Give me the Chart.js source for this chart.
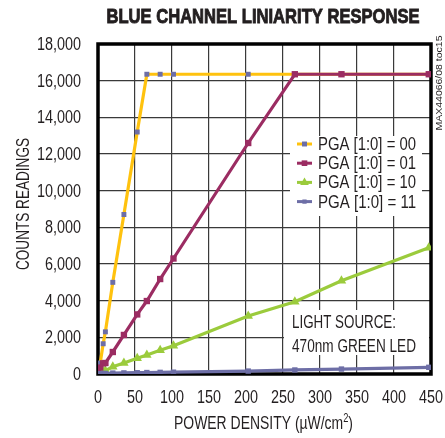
<!DOCTYPE html>
<html>
<head>
<meta charset="utf-8">
<script src="https://cdn.jsdelivr.net/npm/chart.js@4.4.1/dist/chart.umd.min.js"></script>
<style>
  html, body { margin: 0; padding: 0; background: #fff; }
  #wrap { width: 445px; height: 438px; position: relative; }
</style>
</head>
<body>
<div id="wrap"><canvas id="chart"></canvas></div>
<script>
// data (x = µW/cm2, y = counts)
const powerX   = [0, 3, 7, 10, 20, 35, 53, 66, 84, 102, 203, 266, 329, 447];
const pga00    = [0, 600, 1650, 2300, 5000, 8700, 13200, 16350, 16350, 16350, 16350, 16350, 16350, 16350];
const pga01    = [100, 350, 580, 600, 1200, 2130, 3250, 3980, 5180, 6300, 12600, 16350, 16350, 16350];
const pga10    = [0, 60, 130, 180, 400, 600, 860, 1040, 1290, 1540, 3160, 3940, 5090, 6880];
const pga11    = [10, 20, 25, 30, 50, 60, 70, 80, 90, 100, 160, 220, 270, 365];
const seriesLabels = ['PGA [1:0] = 00', 'PGA [1:0] = 01', 'PGA [1:0] = 10', 'PGA [1:0] = 11'];
const xTicks = [0, 50, 100, 150, 200, 250, 300, 350, 400, 450];
const yTicks = [0, 2000, 4000, 6000, 8000, 10000, 12000, 14000, 16000, 18000];

const FONT = '"Liberation Sans", Arial, sans-serif';
const INK = '#231f20';
const YELLOW = '#FFC20E', MAGENTA = '#9B2C62', GREEN = '#9BCB3C', SLATE = '#6D6EA6';
const SQUEEZE = 0.8;   // the original uses a condensed face

const pts = ys => powerX.map((x, i) => ({ x, y: ys[i] }));

function mkSet(label, ys, line, mark, style, size, order) {
    return {
        label, data: pts(ys), showLine: true,
        borderColor: line, backgroundColor: mark, borderWidth: 3.2,
        pointStyle: style, pointRadius: size, pointBackgroundColor: mark,
        pointBorderColor: mark, pointBorderWidth: 0, order
    };
}

// draw text squeezed horizontally; width = target width or null to use SQUEEZE
function squeezed(ctx, text, x, y, font, align, width, bolden) {
    ctx.save();
    ctx.font = font;
    const w = ctx.measureText(text).width;
    const k = width ? width / w : SQUEEZE;
    ctx.translate(x, y);
    ctx.scale(k, 1);
    ctx.textAlign = align;
    ctx.textBaseline = 'middle';
    ctx.fillText(text, 0, 0);
    if (bolden) {
        ctx.strokeStyle = ctx.fillStyle;
        ctx.lineWidth = bolden;
        ctx.strokeText(text, 0, 0);
    }
    ctx.restore();
}

const decor = {
    id: 'decor',
    beforeDatasetsDraw(chart) {
        const { ctx, chartArea: a } = chart;
        ctx.save();
        // legend box and note box
        ctx.fillStyle = '#fff';
        ctx.fillRect(290, 136, 132, 80);
        ctx.fillRect(284, 310, 145, 45);
        // frame
        ctx.strokeStyle = '#000';
        ctx.lineWidth = 3.5;
        ctx.strokeRect(a.left, a.top, a.right - a.left, a.bottom - a.top);
        ctx.restore();
    },
    afterDatasetsDraw(chart) {
        const { ctx, scales } = chart;
        ctx.save();
        ctx.fillStyle = INK;
        // tick labels
        yTicks.forEach(v => {
            squeezed(ctx, v.toLocaleString('en-US'), 81, scales.y.getPixelForValue(v) + 1, '18px ' + FONT, 'right');
        });
        xTicks.forEach(v => {
            squeezed(ctx, String(v), scales.x.getPixelForValue(v), 398, '18px ' + FONT, 'center');
        });
        // legend
        const sym = [[YELLOW, SLATE, 'rect', 3.5], [MAGENTA, MAGENTA, 'rect', 4], [GREEN, GREEN, 'triangle', 5], [SLATE, SLATE, 'rect', 3]];
        seriesLabels.forEach((t, i) => {
            const y = 144 + i * 19.2;
            ctx.strokeStyle = sym[i][0];
            ctx.lineWidth = 3;
            ctx.beginPath(); ctx.moveTo(297, y); ctx.lineTo(312, y); ctx.stroke();
            ctx.fillStyle = sym[i][1];
            Chart.helpers.drawPoint(ctx, { pointStyle: sym[i][2], radius: sym[i][3], borderWidth: 0 }, 304.5, y);
            ctx.fillStyle = INK;
            squeezed(ctx, t, 318, y + 1, '18px ' + FONT, 'left', 98);
        });
        // note
        squeezed(ctx, 'LIGHT SOURCE:', 292, 323, '19px ' + FONT, 'left', 104);
        squeezed(ctx, '470nm GREEN LED', 292, 347, '19px ' + FONT, 'left', 124);
        // title
        squeezed(ctx, 'BLUE CHANNEL LINIARITY RESPONSE', 263, 17, 'bold 20px ' + FONT, 'center', 313, 0.9);
        // x axis title with superscript
        ctx.font = '18px ' + FONT;
        const xt = 'POWER DENSITY (µW/cm';
        const w1 = ctx.measureText(xt).width;
        ctx.font = '12px ' + FONT;
        const w2 = ctx.measureText('2').width;
        ctx.font = '18px ' + FONT;
        const w3 = ctx.measureText(')').width;
        const k = 179 / (w1 + w2 + w3);
        ctx.save();
        ctx.translate(174, 424);
        ctx.scale(k, 1);
        ctx.textBaseline = 'middle';
        ctx.fillText(xt, 0, 0);
        ctx.font = '12px ' + FONT;
        ctx.fillText('2', w1, -5);
        ctx.font = '18px ' + FONT;
        ctx.fillText(')', w1 + w2, 0);
        ctx.restore();
        // y axis title
        ctx.save();
        ctx.translate(24, 204);
        ctx.rotate(-Math.PI / 2);
        squeezed(ctx, 'COUNTS READINGS', 0, 0, '18px ' + FONT, 'center', 132);
        ctx.restore();
        // side code
        ctx.save();
        ctx.translate(440, 83);
        ctx.rotate(-Math.PI / 2);
        squeezed(ctx, 'MAX44066/08 toc15', 0, 0, '9px ' + FONT, 'center', 95);
        ctx.restore();
        ctx.restore();
    }
};

new Chart(document.getElementById('chart'), {
    type: 'scatter',
    data: {
        datasets: [
            mkSet(seriesLabels[0], pga00, YELLOW, SLATE, 'rect', 3.5, 3),
            mkSet(seriesLabels[1], pga01, MAGENTA, MAGENTA, 'rect', 4.5, 1),
            mkSet(seriesLabels[2], pga10, GREEN, GREEN, 'triangle', 5.5, 2),
            mkSet(seriesLabels[3], pga11, SLATE, SLATE, 'rect', 3.8, 0)
        ]
    },
    options: {
        responsive: true,
        maintainAspectRatio: false,
        animation: false,
        layout: { padding: { left: 0, top: 44, right: 14, bottom: 0 } },
        plugins: { legend: { display: false }, title: { display: false }, tooltip: { enabled: false } },
        scales: {
            x: {
                type: 'linear', min: 0, max: 450,
                afterFit: s => { s.height = 64; },
                afterBuildTicks: s => { s.ticks = xTicks.map(v => ({ value: v })); },
                grid: { color: '#3a3a3a', lineWidth: 1.2, drawTicks: false },
                border: { display: false },
                ticks: { display: false }
            },
            y: {
                type: 'linear', min: 0, max: 18000,
                afterFit: s => { s.width = 98; },
                afterBuildTicks: s => { s.ticks = yTicks.map(v => ({ value: v })); },
                grid: { color: '#3a3a3a', lineWidth: 1.2, drawTicks: false },
                border: { display: false },
                ticks: { display: false }
            }
        }
    },
    plugins: [decor]
});
</script>
</body>
</html>
